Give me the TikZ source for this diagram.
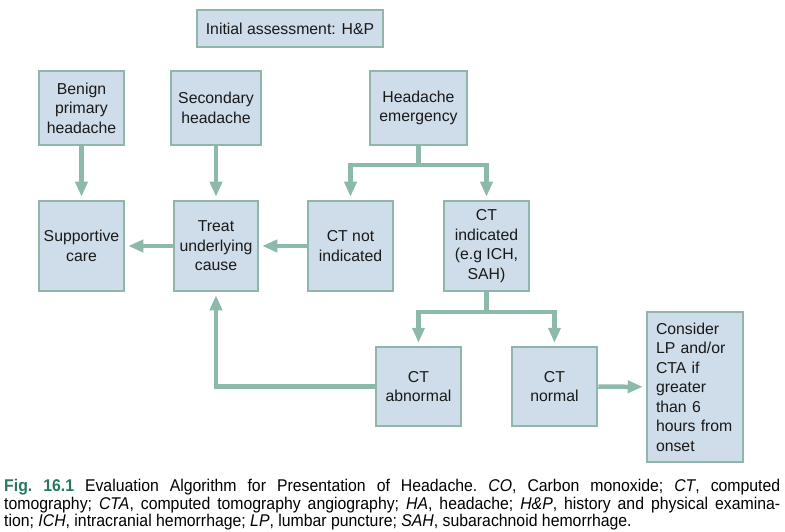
\documentclass[tikz,border=0pt]{standalone}
\usepackage{fontspec}
\setmainfont{Liberation Sans}
\newfontfamily\capfont[FakeStretch=0.93]{Liberation Sans}
\usetikzlibrary{arrows.meta, positioning, calc}
\definecolor{boxfill}{RGB}{207,220,233}
\definecolor{boxline}{RGB}{143,182,168}
\definecolor{flowline}{RGB}{141,185,168}
\definecolor{figgreen}{RGB}{40,120,95}
\begin{document}
\begin{tikzpicture}[x=1pt, y=-1pt,
        box/.style={rectangle, draw=boxline, line width=2.5pt, fill=boxfill, align=center, text=black!90, inner sep=0pt, font=\fontsize{15.8}{19.5}\selectfont},
        flow/.style={draw=flowline, line width=4.5pt, -{Triangle[length=15pt, width=12pt]}, shorten >=3pt}]
        \useasboundingbox (0,0) rectangle (785,532);
        \node[box, minimum width=186pt, minimum height=37pt] (init) at (290,28.5) {Initial assessment: H\&P};
        \node[box, minimum width=85pt, minimum height=74pt] (benign) at (81.5,108) {Benign\\primary\\headache};
        \node[box, minimum width=90pt, minimum height=74pt] (second) at (216,108) {Secondary\\headache};
        \node[box, minimum width=97pt, minimum height=74pt] (emerg) at (418.5,108) {Headache\\emergency};
        \node[box, minimum width=85pt, minimum height=90pt] (support) at (81.5,246) {Supportive\\care};
        \node[box, minimum width=84pt, minimum height=90pt] (treat) at (216,246) {Treat\\underlying\\cause};
        \node[box, minimum width=85pt, minimum height=90pt] (ctnot) at (350.5,246) {CT not\\indicated};
        \node[box, minimum width=85pt, minimum height=90pt] (ctind) at (486.5,246) {CT\\indicated\\(e.g ICH,\\SAH)};
        \node[box, minimum width=85pt, minimum height=79pt] (ctabn) at (418.5,386.5) {CT\\abnormal};
        \node[box, minimum width=85pt, minimum height=79pt] (ctnorm) at (554.5,386.5) {CT\\normal};
        \node[box, minimum width=96pt, minimum height=150pt, align=left, text width=78pt] (consider) at (695,387) {Consider\\LP and/or\\CTA if\\greater\\than 6\\hours from\\onset};
        % branch points
        \coordinate (split1) at (418.5,165);
        \coordinate (split2) at (486.5,312);
        \draw[flow] (benign) -- (support);
        \draw[flow] (second) -- (treat);
        \draw[flow, shorten >=0pt, -] (emerg.south) -- (split1);
        \draw[flow] (split1) -| (ctnot.north);
        \draw[flow] (split1) -| (ctind.north);
        \draw[flow] (ctnot) -- (treat);
        \draw[flow] (treat) -- (support);
        \draw[flow, shorten >=0pt, -] (ctind.south) -- (split2);
        \draw[flow] (split2) -| (ctabn.north);
        \draw[flow] (split2) -| (ctnorm.north);
        \draw[flow] (ctabn.west) -| (treat.south);
        \draw[flow] (ctnorm) -- (consider);
        \node[anchor=north west, text width=776pt, align=justify, inner sep=0pt, font=\capfont\fontsize{17}{17.5}\selectfont\frenchspacing] (caption) at (4,479) {{\bfseries\color{figgreen}Fig.~16.1} Evaluation Algorithm for Presentation of Headache. \textit{CO}, Carbon monoxide; \textit{CT}, computed\linebreak tomography; \textit{CTA}, computed tomography angiography; \textit{HA}, headache; \textit{H\&P}, history and physical examina-\linebreak tion; \textit{ICH}, intracranial hemorrhage; \textit{LP}, lumbar puncture; \textit{SAH}, subarachnoid hemorrhage.};
    \end{tikzpicture}
\end{document}
